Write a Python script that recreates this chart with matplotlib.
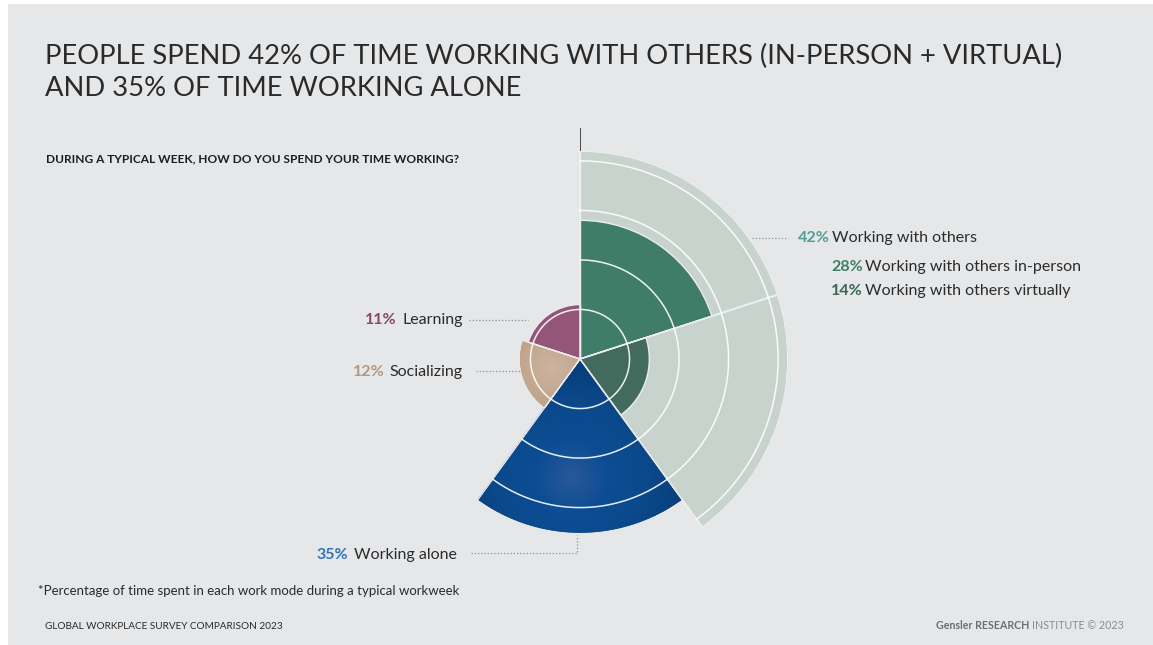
import numpy as np
import matplotlib
matplotlib.use("Agg")
import matplotlib.pyplot as plt
from matplotlib.colors import LinearSegmentedColormap
from matplotlib.lines import Line2D
from matplotlib.patches import Rectangle

# ---------------- data ----------------
categories = ["Working with others in-person", "Working with others virtually",
              "Working alone", "Socializing", "Learning"]
values = [28, 14, 35, 12, 11]
group_label = "Working with others"
group_value = 42                     # in-person + virtual
grid_levels = [10, 20, 30, 40]

title_lines = ["PEOPLE SPEND 42% OF TIME WORKING WITH OTHERS (IN-PERSON + VIRTUAL)",
               "AND 35% OF TIME WORKING ALONE"]
subtitle = "DURING A TYPICAL WEEK, HOW DO YOU SPEND YOUR TIME WORKING?"
footnote = "*Percentage of time spent in each work mode during a typical workweek"
source_left = "GLOBAL WORKPLACE SURVEY COMPARISON 2023"

# ---------------- style ----------------
BG = "#E6E7E9"
GRAY_WEDGE = "#C9D3CD"
bar_colors = ["#3F7D68", "#436B5D", "#0B4B92", "#C6AB95", "#935678"]
pct_colors = ["#3F7D68", "#3B6656", "#2F74B9", "#B39881", "#8B476B"]
group_pct_color = "#4E9E95"
TEXT = "#2B2B2B"

W, H, DPI = 1153, 645, 100
fig = plt.figure(figsize=(W / DPI, H / DPI), dpi=DPI)
fig.patch.set_facecolor("white")
fig.add_artist(Rectangle((8 / W, 0), 1 - 8 / W, 1 - 4 / H, transform=fig.transFigure,
                         facecolor=BG, edgecolor="none", zorder=-10))

def fx(x):
    return x / W

def fy(y):
    return 1 - y / H

# polar axes: centre (580, 359), radius 208 px for value 42
cx, cy, R = 580, 359, 208
ax = fig.add_axes([fx(cx - R), fy(cy + R), 2 * R / W, 2 * R / H], projection="polar")
ax.set_facecolor("none")
ax.patch.set_visible(False)
ax.set_theta_zero_location("N")
ax.set_theta_direction(-1)
ax.set_ylim(0, group_value)
ax.grid(False)
ax.set_xticks([])
ax.set_yticks([])
ax.spines["polar"].set_visible(False)

n = len(values)
width = 2 * np.pi / n
starts = np.arange(n) * width
centers = starts + width / 2

# vertical axis line at top
ax.plot([0, 0], [0, 46.7], color="#4A4A4A", lw=0.7, clip_on=False, zorder=0)

# background grey for working-with-others group (first two sectors)
heights_bg = [group_value, group_value, 0, 0, 0]
ax.bar(centers, heights_bg, width=width, bottom=0, color=GRAY_WEDGE,
       edgecolor="#F2F3F3", linewidth=1.2, zorder=1)

# main bars
bars = ax.bar(centers, values, width=width, bottom=0, color=bar_colors,
              edgecolor="#ECEDEE", linewidth=1.0, zorder=2)

# radial gradient for "Working alone" and "Socializing"
def gradient_fill(i, cols, hot_r, hot_dth):
    th = np.linspace(starts[i], starts[i] + width, 120)
    rr = np.linspace(0, values[i], 120)
    T, Rg = np.meshgrid(th, rr)
    X, Y = Rg * np.sin(T), Rg * np.cos(T)
    th0 = centers[i] + hot_dth
    hx, hy = hot_r * np.sin(th0), hot_r * np.cos(th0)
    D = np.hypot(X - hx, Y - hy)
    D = D / D.max()
    cmap = LinearSegmentedColormap.from_list("g", cols)
    ax.pcolormesh(T, Rg, D, cmap=cmap, shading="gouraud", zorder=2.5,
                  vmin=0, vmax=1, rasterized=True)

gradient_fill(2, ["#29599A", "#0B4C93", "#0A4889", "#083C78"], 24, np.radians(4))
gradient_fill(3, ["#CDB5A2", "#C6AB95", "#BEA18A"], 6, 0)

# redraw separators on top of gradients
for i in range(n):
    top = max(values[i], heights_bg[i])
    for a in (starts[i], starts[i] + width):
        ax.plot([a, a], [0, top], color="#ECEDEE", lw=1.0, zorder=3)

# white rings inside sectors
for i in range(n):
    top = max(values[i], heights_bg[i])
    th = np.linspace(starts[i], starts[i] + width, 100)
    for g in grid_levels:
        if g < top:
            ax.plot(th, np.full_like(th, g), color="white", lw=1.1, alpha=0.9, zorder=4)

# ---------------- text ----------------
TF = "Lato"
for k, line in enumerate(title_lines):
    fig.text(fx(45), fy(64 + 32 * k), line, fontsize=19.7, family=TF, fontweight="normal",
             color="#2A2A2A", va="baseline", ha="left")

fig.text(fx(46), fy(162), subtitle, fontsize=8.6, family=TF, fontweight="bold",
         color="#1E1E1E", va="baseline")

LF = "Lato"
LS = 11.5

def label_left(x, y, pct, name, pcol, size=LS):
    t1 = fig.text(fx(x), fy(y), pct, fontsize=size, family=LF, fontweight="bold",
                  color=pcol, va="baseline", ha="left")
    ax.annotate(name, xy=(1, 0), xycoords=t1, xytext=(1.5, 0), textcoords="offset points",
                fontsize=size, family=LF, color=TEXT, va="bottom", ha="left",
                annotation_clip=False)

def label_right(x, y, pct, name, pcol, size=LS):
    t2 = fig.text(fx(x), fy(y), name, fontsize=size, family=LF, color=TEXT,
                  va="baseline", ha="right")
    ax.annotate(pct, xy=(0, 0), xycoords=t2, xytext=(-4, 0), textcoords="offset points",
                fontsize=size, family=LF, fontweight="bold", color=pcol,
                va="bottom", ha="right", annotation_clip=False)

label_left(798, 242, f"{group_value}%", group_label, group_pct_color)
label_left(831, 271, f"{values[0]}%", categories[0], pct_colors[0])
label_left(831, 295, f"{values[1]}%", categories[1], pct_colors[1])
label_right(463, 324, f"{values[4]}%", categories[4], pct_colors[4])
label_right(463, 376, f"{values[3]}%", categories[3], pct_colors[3])
label_right(457, 559, f"{values[2]}%", categories[2], pct_colors[2])

# leader lines (dotted)
def dline(xs, ys):
    fig.add_artist(Line2D([fx(v) for v in xs], [fy(v) for v in ys], color="#8E8F91",
                          lw=0.9, linestyle=(0, (1, 1.6)), transform=fig.transFigure))

dline([752, 788], [237.5, 237.5])
dline([469, 528], [320, 320])
dline([476, 522], [371, 371])
dline([471, 576.5, 576.5], [553, 553, 535])

fig.text(fx(38), fy(595), footnote, fontsize=9.5, family=LF, color=TEXT, va="baseline")
fig.text(fx(45), fy(629), source_left, fontsize=7.2, family=LF, color=TEXT, va="baseline")

t_right = fig.text(fx(1124), fy(629), "INSTITUTE \u00a9 2023", fontsize=7.7, family=LF,
                   color="#8A8B8D", va="baseline", ha="right")
ax.annotate("Gensler RESEARCH", xy=(0, 0), xycoords=t_right, xytext=(-2, 0),
            textcoords="offset points", fontsize=7.7, family=LF, fontweight="bold",
            color="#6D6E70", va="bottom", ha="right", annotation_clip=False)

fig.savefig("out.png", dpi=DPI, facecolor=fig.get_facecolor())
